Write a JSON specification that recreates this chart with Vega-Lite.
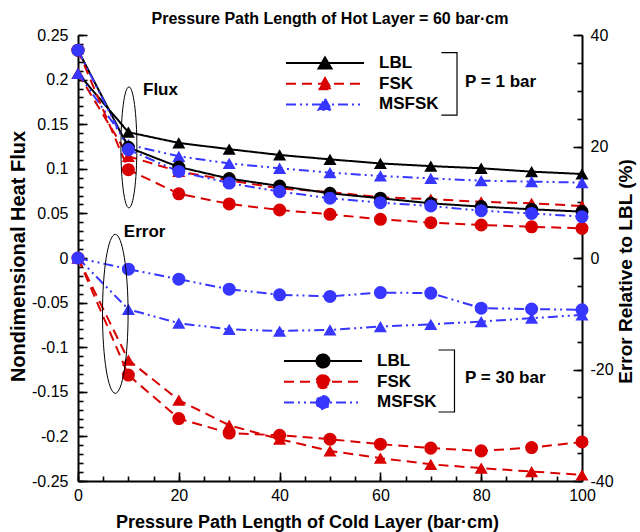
{
  "$schema": "https://vega.github.io/schema/vega-lite/v6.json",
  "width": 504,
  "height": 446,
  "autosize": {"type": "none"},
  "padding": {"left": 78, "top": 35, "right": 58, "bottom": 51},
  "background": "white",
  "config": {"view": {"stroke": null}, "font": "Liberation Sans"},
  "title": {"text": "Pressure Path Length of Hot Layer = 60 bar·cm", "font": "Liberation Sans", "fontSize": 16, "fontWeight": "bold", "color": "black", "anchor": "middle", "offset": 0},
  "data": {"values": [
    {"x": 0, "method": "LBL", "p": "1", "flux": 0.207},
    {"x": 10, "method": "LBL", "p": "1", "flux": 0.141},
    {"x": 20, "method": "LBL", "p": "1", "flux": 0.129},
    {"x": 30, "method": "LBL", "p": "1", "flux": 0.122},
    {"x": 40, "method": "LBL", "p": "1", "flux": 0.1155},
    {"x": 50, "method": "LBL", "p": "1", "flux": 0.1106},
    {"x": 60, "method": "LBL", "p": "1", "flux": 0.106},
    {"x": 70, "method": "LBL", "p": "1", "flux": 0.103},
    {"x": 80, "method": "LBL", "p": "1", "flux": 0.1006},
    {"x": 90, "method": "LBL", "p": "1", "flux": 0.0968},
    {"x": 100, "method": "LBL", "p": "1", "flux": 0.0942},
    {"x": 0, "method": "FSK", "p": "1", "flux": 0.207, "err": 0},
    {"x": 10, "method": "FSK", "p": "1", "flux": 0.114, "err": -18.3},
    {"x": 20, "method": "FSK", "p": "1", "flux": 0.097, "err": -25.5},
    {"x": 30, "method": "FSK", "p": "1", "flux": 0.087, "err": -30},
    {"x": 40, "method": "FSK", "p": "1", "flux": 0.078, "err": -32.5},
    {"x": 50, "method": "FSK", "p": "1", "flux": 0.074, "err": -34.6},
    {"x": 60, "method": "FSK", "p": "1", "flux": 0.068, "err": -35.9},
    {"x": 70, "method": "FSK", "p": "1", "flux": 0.066, "err": -37.0},
    {"x": 80, "method": "FSK", "p": "1", "flux": 0.063, "err": -37.7},
    {"x": 90, "method": "FSK", "p": "1", "flux": 0.0613, "err": -38.3},
    {"x": 100, "method": "FSK", "p": "1", "flux": 0.0583, "err": -38.9},
    {"x": 0, "method": "MSFSK", "p": "1", "flux": 0.207, "err": 0},
    {"x": 10, "method": "MSFSK", "p": "1", "flux": 0.127, "err": -9.2},
    {"x": 20, "method": "MSFSK", "p": "1", "flux": 0.114, "err": -11.7},
    {"x": 30, "method": "MSFSK", "p": "1", "flux": 0.106, "err": -12.8},
    {"x": 40, "method": "MSFSK", "p": "1", "flux": 0.1006, "err": -13.1},
    {"x": 50, "method": "MSFSK", "p": "1", "flux": 0.0957, "err": -12.9},
    {"x": 60, "method": "MSFSK", "p": "1", "flux": 0.092, "err": -12.3},
    {"x": 70, "method": "MSFSK", "p": "1", "flux": 0.0893, "err": -11.9},
    {"x": 80, "method": "MSFSK", "p": "1", "flux": 0.0867, "err": -11.4},
    {"x": 90, "method": "MSFSK", "p": "1", "flux": 0.0856, "err": -10.8},
    {"x": 100, "method": "MSFSK", "p": "1", "flux": 0.0845, "err": -10.2},
    {"x": 0, "method": "LBL", "p": "30", "flux": 0.233},
    {"x": 10, "method": "LBL", "p": "30", "flux": 0.124},
    {"x": 20, "method": "LBL", "p": "30", "flux": 0.102},
    {"x": 30, "method": "LBL", "p": "30", "flux": 0.089},
    {"x": 40, "method": "LBL", "p": "30", "flux": 0.0807},
    {"x": 50, "method": "LBL", "p": "30", "flux": 0.0725},
    {"x": 60, "method": "LBL", "p": "30", "flux": 0.067},
    {"x": 70, "method": "LBL", "p": "30", "flux": 0.0613},
    {"x": 80, "method": "LBL", "p": "30", "flux": 0.0576},
    {"x": 90, "method": "LBL", "p": "30", "flux": 0.0546},
    {"x": 100, "method": "LBL", "p": "30", "flux": 0.052},
    {"x": 0, "method": "FSK", "p": "30", "flux": 0.233, "err": 0},
    {"x": 10, "method": "FSK", "p": "30", "flux": 0.099, "err": -21},
    {"x": 20, "method": "FSK", "p": "30", "flux": 0.072, "err": -28.8},
    {"x": 30, "method": "FSK", "p": "30", "flux": 0.0606, "err": -31.4},
    {"x": 40, "method": "FSK", "p": "30", "flux": 0.0538, "err": -31.8},
    {"x": 50, "method": "FSK", "p": "30", "flux": 0.049, "err": -32.5},
    {"x": 60, "method": "FSK", "p": "30", "flux": 0.0434, "err": -33.4},
    {"x": 70, "method": "FSK", "p": "30", "flux": 0.0396, "err": -34.1},
    {"x": 80, "method": "FSK", "p": "30", "flux": 0.037, "err": -34.6},
    {"x": 90, "method": "FSK", "p": "30", "flux": 0.035, "err": -34.0},
    {"x": 100, "method": "FSK", "p": "30", "flux": 0.0333, "err": -33.0},
    {"x": 0, "method": "MSFSK", "p": "30", "flux": 0.233, "err": 0},
    {"x": 10, "method": "MSFSK", "p": "30", "flux": 0.1215, "err": -2.0},
    {"x": 20, "method": "MSFSK", "p": "30", "flux": 0.097, "err": -3.8},
    {"x": 30, "method": "MSFSK", "p": "30", "flux": 0.084, "err": -5.6},
    {"x": 40, "method": "MSFSK", "p": "30", "flux": 0.0744, "err": -6.6},
    {"x": 50, "method": "MSFSK", "p": "30", "flux": 0.067, "err": -6.9},
    {"x": 60, "method": "MSFSK", "p": "30", "flux": 0.062, "err": -6.2},
    {"x": 70, "method": "MSFSK", "p": "30", "flux": 0.0583, "err": -6.3},
    {"x": 80, "method": "MSFSK", "p": "30", "flux": 0.053, "err": -9.0},
    {"x": 90, "method": "MSFSK", "p": "30", "flux": 0.050, "err": -9.15},
    {"x": 100, "method": "MSFSK", "p": "30", "flux": 0.0463, "err": -9.3}
  ]},
  "resolve": {"scale": {"x": "independent", "y": "independent", "color": "independent", "strokeDash": "independent"}},
  "layer": [
    {
      "resolve": {"scale": {"x": "independent", "y": "independent", "color": "independent", "strokeDash": "independent"}},
      "layer": [
        {
          "transform": [{"filter": "datum.p === '1'"}],
          "mark": {"type": "line", "strokeWidth": 2, "point": {"shape": "triangle-up", "filled": true, "size": 170, "opacity": 1}},
          "encoding": {
            "x": {"field": "x", "type": "quantitative", "scale": {"domain": [0, 100], "nice": false},
              "axis": {
                "orient": "bottom",
                "values": [0, 20, 40, 60, 80, 100],
                "ticks": false, "tickSize": 0,
                "labelOverlap": false, "labelFlush": false, "grid": false,
                "domainColor": "black", "domainWidth": 2,
                "labelFont": "Liberation Sans", "labelFontSize": 16, "labelColor": "black", "labelPadding": 6,
                "title": "Pressure Path Length of Cold Layer (bar·cm)", "titleFont": "Liberation Sans", "titleFontSize": 18, "titleFontWeight": "bold", "titleColor": "black",
                "titleX": 229, "titleY": 46, "titleBaseline": "alphabetic", "titleAlign": "center"
              }},
            "y": {"field": "flux", "type": "quantitative", "scale": {"domain": [-0.25, 0.25], "nice": false, "zero": false},
              "axis": {
                "orient": "left",
                "values": [-0.25, -0.2, -0.15, -0.1, -0.05, 0, 0.05, 0.1, 0.15, 0.2, 0.25],
                "labelExpr": "'' + datum.value",
                "ticks": false, "tickSize": 0,
                "labelOverlap": false, "labelFlush": false, "grid": false,
                "domainColor": "black", "domainWidth": 2,
                "labelFont": "Liberation Sans", "labelFontSize": 16, "labelColor": "black", "labelPadding": 10,
                "title": "Nondimensional Heat Flux", "titleFont": "Liberation Sans", "titleFontSize": 20, "titleFontWeight": "bold", "titleColor": "black",
                "titleX": -60, "titleY": 221, "titleBaseline": "middle", "titleAlign": "center", "titleAngle": -90
              }},
            "color": {"field": "method", "type": "nominal",
              "scale": {"domain": ["LBL", "FSK", "MSFSK"], "range": ["#000000", "#d80000", "#3636ff"]},
              "legend": {"orient": "none", "legendX": 207, "legendY": 18, "title": null, "padding": 0,
                "symbolType": "M-1,0L1,0M0,-0.144L0.167,0.144L-0.167,0.144Z", "symbolSize": 6084, "symbolStrokeWidth": 2,
                "labelFont": "Liberation Sans", "labelFontSize": 17, "labelFontWeight": "bold", "labelColor": "black", "labelOffset": 14,
                "clipHeight": 20, "rowPadding": 0.7}},
            "strokeDash": {"field": "method", "type": "nominal",
              "scale": {"domain": ["LBL", "FSK", "MSFSK"], "range": [[1, 0], [10, 6], [10, 4, 2, 4, 2, 4]]},
              "legend": {"orient": "none", "legendX": 207, "legendY": 18, "title": null, "padding": 0,
                "symbolType": "M-1,0L1,0M0,-0.144L0.167,0.144L-0.167,0.144Z", "symbolSize": 6084, "symbolStrokeWidth": 2,
                "labelFont": "Liberation Sans", "labelFontSize": 17, "labelFontWeight": "bold", "labelColor": "black", "labelOffset": 14,
                "clipHeight": 20, "rowPadding": 0.7}}
          }
        },
        {
          "transform": [{"filter": "datum.p === '30'"}],
          "mark": {"type": "line", "strokeWidth": 2, "point": {"shape": "circle", "filled": true, "size": 170, "opacity": 1}},
          "encoding": {
            "x": {"field": "x", "type": "quantitative", "scale": {"domain": [0, 100], "nice": false},
              "axis": {"orient": "bottom", "values": [0, 20, 40, 60, 80, 100], "offset": -9, "tickSize": 9, "labels": false, "domain": false, "grid": false, "title": null, "tickColor": "black", "tickWidth": 1.6}},
            "y": {"field": "flux", "type": "quantitative", "scale": {"domain": [-0.25, 0.25], "nice": false, "zero": false},
              "axis": {"orient": "left", "values": [-0.25, -0.2, -0.15, -0.1, -0.05, 0, 0.05, 0.1, 0.15, 0.2, 0.25], "offset": -9, "tickSize": 9, "labels": false, "domain": false, "grid": false, "title": null, "tickColor": "black", "tickWidth": 1.6}},
            "color": {"field": "method", "type": "nominal",
              "scale": {"domain": ["LBL", "FSK", "MSFSK"], "range": ["#000000", "#d80000", "#3636ff"]},
              "legend": {"orient": "none", "legendX": 205, "legendY": 316, "title": null, "padding": 0,
                "symbolType": "M-1,0L1,0M0,-0.167C0.092,-0.167,0.167,-0.092,0.167,0C0.167,0.092,0.092,0.167,0,0.167C-0.092,0.167,-0.167,0.092,-0.167,0C-0.167,-0.092,-0.092,-0.167,0,-0.167Z", "symbolSize": 6084, "symbolStrokeWidth": 2,
                "labelFont": "Liberation Sans", "labelFontSize": 17, "labelFontWeight": "bold", "labelColor": "black", "labelOffset": 14,
                "clipHeight": 20, "rowPadding": 0.7}},
            "strokeDash": {"field": "method", "type": "nominal",
              "scale": {"domain": ["LBL", "FSK", "MSFSK"], "range": [[1, 0], [10, 6], [10, 4, 2, 4, 2, 4]]},
              "legend": {"orient": "none", "legendX": 205, "legendY": 316, "title": null, "padding": 0,
                "symbolType": "M-1,0L1,0M0,-0.167C0.092,-0.167,0.167,-0.092,0.167,0C0.167,0.092,0.092,0.167,0,0.167C-0.092,0.167,-0.167,0.092,-0.167,0C-0.167,-0.092,-0.092,-0.167,0,-0.167Z", "symbolSize": 6084, "symbolStrokeWidth": 2,
                "labelFont": "Liberation Sans", "labelFontSize": 17, "labelFontWeight": "bold", "labelColor": "black", "labelOffset": 14,
                "clipHeight": 20, "rowPadding": 0.7}}
          }
        }
      ]
    },
    {
      "transform": [{"filter": "datum.method !== 'LBL'"}],
      "resolve": {"scale": {"y": "independent"}},
      "encoding": {
        "x": {"field": "x", "type": "quantitative", "scale": {"domain": [0, 100], "nice": false}, "axis": null},
        "color": {"field": "method", "type": "nominal",
          "scale": {"domain": ["LBL", "FSK", "MSFSK"], "range": ["#000000", "#d80000", "#3636ff"]}, "legend": null},
        "strokeDash": {"field": "method", "type": "nominal",
          "scale": {"domain": ["LBL", "FSK", "MSFSK"], "range": [[1, 0], [10, 6], [10, 4, 2, 4, 2, 4]]}, "legend": null}
      },
      "layer": [
        {
          "transform": [{"filter": "datum.p === '1'"}],
          "mark": {"type": "line", "strokeWidth": 2, "point": {"shape": "triangle-up", "filled": true, "size": 170, "opacity": 1}},
          "encoding": {
            "y": {"field": "err", "type": "quantitative", "scale": {"domain": [-40, 40], "nice": false, "zero": false},
              "axis": {
                "orient": "right",
                "values": [-40, -20, 0, 20, 40],
                "labelExpr": "'' + datum.value",
                "ticks": false, "tickSize": 0,
                "labelOverlap": false, "labelFlush": false, "grid": false,
                "domainColor": "black", "domainWidth": 2,
                "labelFont": "Liberation Sans", "labelFontSize": 16, "labelColor": "black", "labelPadding": 8,
                "title": "Error Relative to LBL (%)", "titleFont": "Liberation Sans", "titleFontSize": 19, "titleFontWeight": "bold", "titleColor": "black",
                "titleX": 43, "titleY": 236, "titleBaseline": "middle", "titleAlign": "center", "titleAngle": -90
              }}
          }
        },
        {
          "transform": [{"filter": "datum.p === '30'"}],
          "mark": {"type": "line", "strokeWidth": 2, "point": {"shape": "circle", "filled": true, "size": 170, "opacity": 1}},
          "encoding": {
            "y": {"field": "err", "type": "quantitative", "scale": {"domain": [-40, 40], "nice": false, "zero": false},
              "axis": {"orient": "right", "values": [-40, -20, 0, 20, 40], "offset": -9, "tickSize": 9, "labels": false, "domain": false, "grid": false, "title": null, "tickColor": "black", "tickWidth": 1.6}}
          }
        }
      ]
    },
    {
      "resolve": {"scale": {"x": "independent", "y": "independent"}},
      "layer": [
        {
          "data": {"values": [{"label": "Flux"}]},
          "mark": {"type": "text", "align": "left", "baseline": "middle", "font": "Liberation Sans", "fontSize": 17, "fontWeight": "bold", "color": "black"},
          "encoding": {
            "x": {"datum": 12.9, "type": "quantitative", "scale": {"domain": [0, 100], "nice": false},
              "axis": {"orient": "bottom", "values": [0,5,10,15,20,25,30,35,40,45,50,55,60,65,70,75,80,85,90,95,100], "offset": -5, "tickSize": 5, "labels": false, "domain": false, "grid": false, "title": null, "tickColor": "black", "tickWidth": 1.6}},
            "y": {"datum": 0.188, "type": "quantitative", "scale": {"domain": [-0.25, 0.25], "nice": false, "zero": false},
              "axis": {"orient": "left", "values": [-0.25,-0.24,-0.23,-0.22,-0.21,-0.2,-0.19,-0.18,-0.17,-0.16,-0.15,-0.14,-0.13,-0.12,-0.11,-0.1,-0.09,-0.08,-0.07,-0.06,-0.05,-0.04,-0.03,-0.02,-0.01,0,0.01,0.02,0.03,0.04,0.05,0.06,0.07,0.08,0.09,0.1,0.11,0.12,0.13,0.14,0.15,0.16,0.17,0.18,0.19,0.2,0.21,0.22,0.23,0.24,0.25], "offset": -5, "tickSize": 5, "labels": false, "domain": false, "grid": false, "title": null, "tickColor": "black", "tickWidth": 1.6}},
            "text": {"field": "label"}
          }
        },
        {
          "data": {"values": [{"label": "Error"}]},
          "mark": {"type": "text", "align": "left", "baseline": "middle", "font": "Liberation Sans", "fontSize": 17, "fontWeight": "bold", "color": "black"},
          "encoding": {
            "x": {"datum": 9.1, "type": "quantitative", "scale": {"domain": [0, 100], "nice": false}, "axis": null},
            "y": {"datum": 0.029, "type": "quantitative", "scale": {"domain": [-0.25, 0.25], "nice": false, "zero": false},
              "axis": {"orient": "right", "values": [-0.25,-0.21875,-0.1875,-0.15625,-0.125,-0.09375,-0.0625,-0.03125,0,0.03125,0.0625,0.09375,0.125,0.15625,0.1875,0.21875,0.25], "offset": -5, "tickSize": 5, "labels": false, "domain": false, "grid": false, "title": null, "tickColor": "black", "tickWidth": 1.6}},
            "text": {"field": "label"}
          }
        },
        {
          "data": {"values": [{"label": "P = 1 bar"}]},
          "mark": {"type": "text", "align": "left", "baseline": "middle", "font": "Liberation Sans", "fontSize": 17, "fontWeight": "bold", "color": "black"},
          "encoding": {"x": {"datum": 76.8, "type": "quantitative", "scale": {"domain": [0, 100], "nice": false}, "axis": null}, "y": {"datum": 0.1977, "type": "quantitative", "scale": {"domain": [-0.25, 0.25], "nice": false, "zero": false}, "axis": null}, "text": {"field": "label"}}
        },
        {
          "data": {"values": [{"label": "P = 30 bar"}]},
          "mark": {"type": "text", "align": "left", "baseline": "middle", "font": "Liberation Sans", "fontSize": 17, "fontWeight": "bold", "color": "black"},
          "encoding": {"x": {"datum": 76.8, "type": "quantitative", "scale": {"domain": [0, 100], "nice": false}, "axis": null}, "y": {"datum": -0.1342, "type": "quantitative", "scale": {"domain": [-0.25, 0.25], "nice": false, "zero": false}, "axis": null}, "text": {"field": "label"}}
        },
        {
          "data": {"values": [{"item": "bracket 1 bar"}]},
          "mark": {"type": "point", "shape": "M-0.5,-1L0,-1L0,1L-0.5,1", "size": 3894, "filled": false, "stroke": "black", "strokeWidth": 1.2, "opacity": 1},
          "encoding": {"x": {"datum": 75.2, "type": "quantitative", "scale": {"domain": [0, 100], "nice": false}, "axis": null}, "y": {"datum": 0.1952, "type": "quantitative", "scale": {"domain": [-0.25, 0.25], "nice": false, "zero": false}, "axis": null}}
        },
        {
          "data": {"values": [{"item": "bracket 30 bar"}]},
          "mark": {"type": "point", "shape": "M-0.516,-1L0,-1L0,1L-0.516,1", "size": 3844, "filled": false, "stroke": "black", "strokeWidth": 1.2, "opacity": 1},
          "encoding": {"x": {"datum": 74.7, "type": "quantitative", "scale": {"domain": [0, 100], "nice": false}, "axis": null}, "y": {"datum": -0.1379, "type": "quantitative", "scale": {"domain": [-0.25, 0.25], "nice": false, "zero": false}, "axis": null}}
        },
        {
          "data": {"values": [{"item": "flux ellipse"}]},
          "mark": {"type": "point", "shape": "M0,-1C0.0729,-1,0.132,-0.552,0.132,0C0.132,0.552,0.0729,1,0,1C-0.0729,1,-0.132,0.552,-0.132,0C-0.132,-0.552,-0.0729,-1,0,-1Z", "size": 14641, "filled": false, "stroke": "black", "strokeWidth": 1, "opacity": 1},
          "encoding": {"x": {"datum": 10.1, "type": "quantitative", "scale": {"domain": [0, 100], "nice": false}, "axis": null}, "y": {"datum": 0.124, "type": "quantitative", "scale": {"domain": [-0.25, 0.25], "nice": false, "zero": false}, "axis": null}}
        },
        {
          "data": {"values": [{"item": "error ellipse"}]},
          "mark": {"type": "point", "shape": "M0,-1C0.0889,-1,0.161,-0.552,0.161,0C0.161,0.552,0.0889,1,0,1C-0.0889,1,-0.161,0.552,-0.161,0C-0.161,-0.552,-0.0889,-1,0,-1Z", "size": 25281, "filled": false, "stroke": "black", "strokeWidth": 1, "opacity": 1},
          "encoding": {"x": {"datum": 7.4, "type": "quantitative", "scale": {"domain": [0, 100], "nice": false}, "axis": null}, "y": {"datum": -0.0626, "type": "quantitative", "scale": {"domain": [-0.25, 0.25], "nice": false, "zero": false}, "axis": null}}
        }
      ]
    }
  ]
}
